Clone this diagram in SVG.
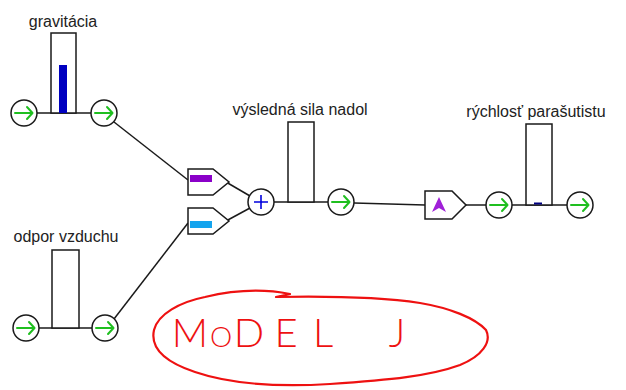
<svg xmlns="http://www.w3.org/2000/svg" width="626" height="390" viewBox="0 0 626 390">
<defs>
<style>
.ln{stroke:#1a1a1a;stroke-width:1.5;fill:none}
.cir{stroke:#1a1a1a;stroke-width:1.5;fill:#fff}
.box{stroke:#1a1a1a;stroke-width:1.5;fill:#fff}
.arr{stroke:#1fbf1f;stroke-width:2;fill:none;stroke-linecap:round;stroke-linejoin:round}
.lbl{font-family:"Liberation Sans",Arial,sans-serif;font-size:16px;fill:#222;text-anchor:middle}
.hand{font-family:Lato,"Liberation Sans",sans-serif;font-weight:300;font-size:40px;fill:#ee1111;text-anchor:middle}
</style>
<g id="flow">
<circle class="cir" cx="0" cy="0" r="13"/>
<path class="arr" d="M-9,0 H8 M3,-6 L8.5,0 L3,6"/>
</g>
</defs>
<rect width="626" height="390" fill="#fff"/>
<g id="connectors">
<path class="ln" d="M37,113 H91"/>
<path class="ln" d="M39,328 H92"/>
<path class="ln" d="M114,122 L188,180"/>
<path class="ln" d="M114,319 L188,223"/>
<path class="ln" d="M226,182 L250,196"/>
<path class="ln" d="M226,221 L250,208"/>
<path class="ln" d="M274,202 H328"/>
<path class="ln" d="M354,203 L425,205"/>
<path class="ln" d="M466,205 H486"/>
<path class="ln" d="M512,205 H567"/>
</g>
<g id="gravitacia">
<use href="#flow" x="24" y="113"/>
<rect class="box" x="51" y="33" width="25" height="80"/>
<rect x="59" y="65" width="8" height="48" fill="#0000c0"/>
<use href="#flow" x="104" y="113"/>
<text class="lbl" x="63" y="27">gravitácia</text>
</g>
<g id="odpor">
<use href="#flow" x="26" y="328"/>
<rect class="box" x="52" y="250" width="27" height="78"/>
<use href="#flow" x="105" y="328"/>
<text class="lbl" x="66" y="242">odpor vzduchu</text>
</g>
<g id="conv-purple">
<path class="box" d="M188,169 H213 L229,182 L213,195 H188 Z"/>
<rect x="190" y="175" width="22" height="7" fill="#8a00c8"/>
</g>
<g id="conv-blue">
<path class="box" d="M188,208 H213 L229,221 L213,234 H188 Z"/>
<rect x="190" y="221" width="22" height="7" fill="#14a4ee"/>
</g>
<g id="plus">
<circle class="cir" cx="261" cy="202" r="13"/>
<path d="M254,202 H268 M261,195 V209" stroke="#0000dd" stroke-width="1.6" fill="none"/>
</g>
<g id="vysledna">
<rect class="box" x="288" y="122" width="26" height="80"/>
<use href="#flow" x="341" y="202"/>
<text class="lbl" x="300" y="115">výsledná sila nadol</text>
</g>
<g id="conv-tri">
<path class="box" d="M425,191 H452 L466,205 L452,219 H425 Z"/>
<path d="M432,212 L439,197 L446,212 L439,208 Z" fill="#a020d8"/>
</g>
<g id="rychlost">
<use href="#flow" x="499" y="205"/>
<rect class="box" x="526" y="124" width="26" height="81"/>
<rect x="534" y="202.5" width="8" height="2" fill="#000080"/>
<use href="#flow" x="580" y="205"/>
<text class="lbl" x="536" y="117">rýchlosť parašutistu</text>
</g>
<g id="annotation">
<path d="M290,294 L276,297 C330,296 380,297 420,303 C450,308 475,318 486,330 C492,342 482,356 460,365 C430,376 390,380 330,384 C280,387 230,384 195,372 C165,362 150,348 154,330 C158,314 180,302 205,297 C230,291 260,288 290,294" stroke="#ee1111" stroke-width="2.2" fill="none" stroke-linecap="round" stroke-linejoin="round"/>
<text class="hand"><tspan x="190" y="347">M</tspan><tspan x="221" y="347" font-size="28">O</tspan><tspan x="249" y="347">D</tspan><tspan x="286" y="347">E</tspan><tspan x="323" y="347">L</tspan><tspan x="397" y="347">J</tspan></text>
</g>
</svg>
